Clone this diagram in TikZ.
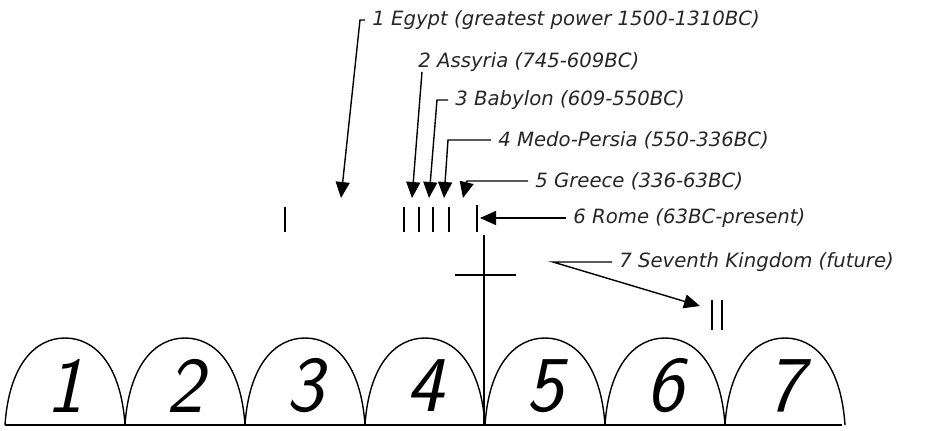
\documentclass[tikz,border=0pt]{standalone}
\usepackage{fontspec}
\newfontfamily\handfont{DejaVu Sans}
\usetikzlibrary{arrows.meta, positioning}
\tikzset{
  kd/lbl/.style={anchor=west, inner sep=0pt, inner xsep=4pt,
    font=\handfont\itshape\fontsize{11.2}{13}\selectfont, text=black!85},
  kd/arr/.style={-{Triangle[length=3.2mm,width=2.8mm]}, line width=0.8pt},
  kd/tick/.style={line width=0.8pt},
  kd/arch/.style={line width=0.8pt},
  kd/num/.style={inner sep=0pt, font=\sffamily\slshape\fontsize{45}{45}\selectfont}
}

\begin{document}
\begin{tikzpicture}[x=0.02cm, y=-0.02cm]
  \useasboundingbox (0,0) rectangle (934,430);

  % Reinos: etiquetas
  \node[kd/lbl] at (365, 20)  (egypt)   {1 Egypt (greatest power 1500-1310BC)};
  \node[kd/lbl] at (411, 62)  (assyria) {2 Assyria (745-609BC)};
  \node[kd/lbl] at (448,100)  (babylon) {3 Babylon (609-550BC)};
  \node[kd/lbl] at (491,140)  (medo)    {4 Medo-Persia (550-336BC)};
  \node[kd/lbl] at (528,181)  (greece)  {5 Greece (336-63BC)};
  \node[kd/lbl] at (566,218)  (rome)    {6 Rome (63BC-present)};
  \node[kd/lbl] at (612,262)  (seventh) {7 Seventh Kingdom (future)};

  % Marcas en la linea de tiempo
  \coordinate (t1) at (341,198);
  \coordinate (t2) at (412,198);
  \coordinate (t3) at (429,198);
  \coordinate (t4) at (444,198);
  \coordinate (t5) at (463,198);
  \coordinate (t6) at (480,218);
  \coordinate (t7) at (700,306);
  \foreach \x in {285,404,419,433,449}
    \draw[kd/tick] (\x,207) -- (\x,232);
  \draw[kd/tick] (477,205) -- (477,232);
  \draw[kd/tick] (712,300) -- (712,330);
  \draw[kd/tick] (722,300) -- (722,330);

  % Cruz
  \coordinate (crossTop) at (484,235);
  \coordinate (crossBot) at (484,425);
  \draw[kd/tick] (crossTop) -- (crossBot);
  \draw[kd/tick] (455,275) -- (516,275);

  % Flechas
  \draw[kd/arr] (egypt.west) -- ++(-5,0) -- (t1);
  \draw[kd/arr] ([xshift=0.22cm]assyria.south west) -- (t2);
  \draw[kd/arr] (babylon.west) -- ++(-11,0) -- (t3);
  \draw[kd/arr] (medo.west) -- ++(-43,0) -- (t4);
  \draw[kd/arr] (greece.west) -- ++(-61,0) -- (t5);
  \draw[kd/arr] (rome.west) -- (t6);
  \draw[kd/arr] (seventh.west) -- ++(-59,0) coordinate (k7) -- (t7);

  % Arcos numerados
  \draw[kd/tick] (5,425) -- (842,425);
  \foreach \i [evaluate=\i as \xa using 5+120*(\i-1)] in {1,...,7}{
    \draw[kd/arch] (\xa,425) .. controls (\xa+4,365) and (\xa+30,338) .. (\xa+60,338)
                   .. controls (\xa+90,338) and (\xa+116,365) .. (\xa+120,425);
    \node[kd/num] (n\i) at (\xa+60,386) {\i};
  }
\end{tikzpicture}
\end{document}
